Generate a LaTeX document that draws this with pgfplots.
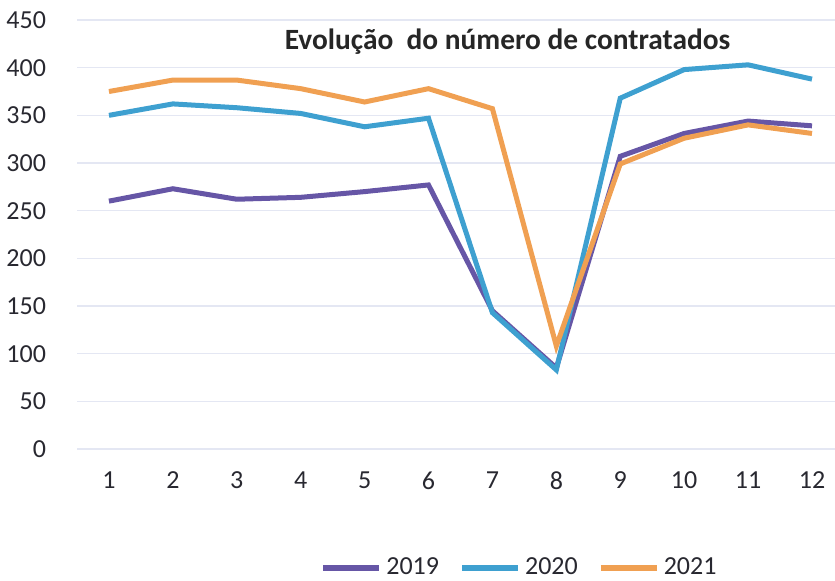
\documentclass[border=0pt]{standalone}
\usepackage{pgfplots}
\pgfplotsset{compat=1.18}
\usepackage{fontspec}
\setmainfont{Carlito}
\definecolor{c19}{RGB}{102,86,166}
\definecolor{c20}{RGB}{62,160,208}
\definecolor{c21}{RGB}{240,160,82}
\definecolor{grid}{RGB}{228,231,243}
\definecolor{tick}{RGB}{40,40,48}
\begin{document}
\begin{tikzpicture}
\path[use as bounding box] (-38.5pt,-65.5pt) rectangle (379pt,224.5pt);
\begin{axis}[
  at={(0,0)}, anchor=south west,
  scale only axis, width=379pt, height=214.5pt,
  xmin=0.5, xmax=12.36, ymin=0, ymax=450,
  xtick={1,...,12}, ytick={0,50,...,450},
  axis line style={draw=none},
  major tick length=0pt, tick style={draw=none},
  xmajorgrids=false, ymajorgrids=true,
  y grid style={grid, line width=0.6pt},
  tick label style={font=\fontsize{13}{15}\selectfont, text=tick},
  yticklabel style={xshift=-12pt},
  xticklabel style={yshift=-8pt},
  /pgf/number format/assume math mode=true,
  legend columns=3,
  legend style={draw=none, at={(rel axis cs:0.585,-0.277)}, anchor=center,
    font=\fontsize{13}{15}\selectfont, text=tick,
    /tikz/every even column/.append style={column sep=8pt}},
  legend image code/.code={\draw[#1, line width=3pt] (0pt,0pt) -- (28pt,0pt);},
  clip=false,
]
\addplot[c19, line width=2.5pt] coordinates {
(1,260) (2,273) (3,262) (4,264) (5,270) (6,277) (7,145) (8,85) (9,307) (10,331) (11,344) (12,339)};
\addlegendentry{2019}
\addplot[c20, line width=2.5pt] coordinates {
(1,350) (2,362) (3,358) (4,352) (5,338) (6,347) (7,143) (8,83) (9,368) (10,398) (11,403) (12,388)};
\addlegendentry{2020}
\addplot[c21, line width=2.5pt] coordinates {
(1,375) (2,387) (3,387) (4,378) (5,364) (6,378) (7,357) (8,108) (9,299) (10,326) (11,340) (12,331)};
\addlegendentry{2021}
\node[font=\fontsize{14.7}{17}\selectfont\bfseries, text=black!85] at (rel axis cs:0.568,0.949) {Evolução\ \ do número de contratados};
\end{axis}
\end{tikzpicture}
\end{document}
